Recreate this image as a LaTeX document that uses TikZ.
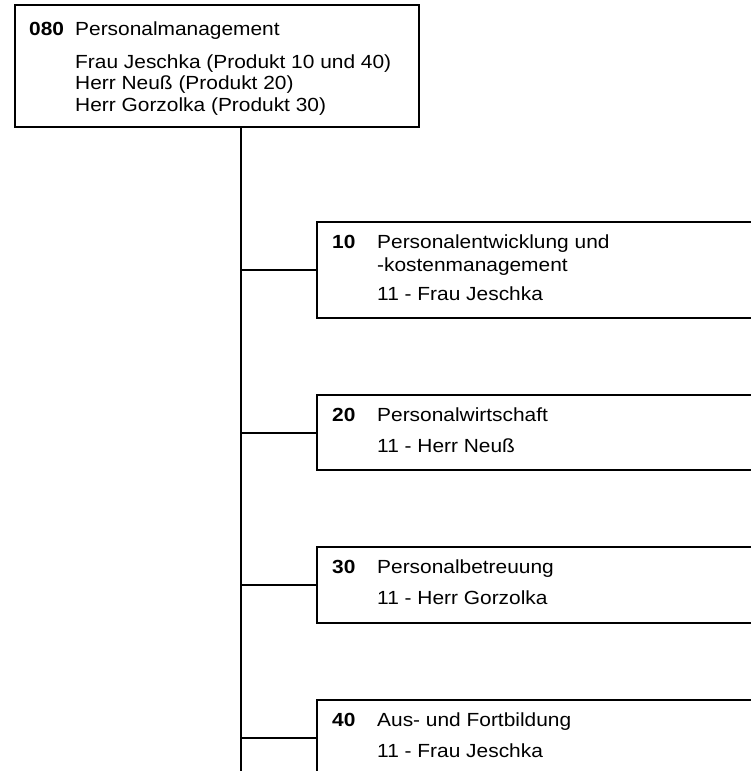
\documentclass[tikz,border=0pt]{standalone}
\usepackage{fontspec}
\setmainfont{Liberation Sans}[FakeStretch=1.1]
\usetikzlibrary{positioning}

\begin{document}
\begin{tikzpicture}[x=1pt, y=-1pt,
    every node/.style={font=\fontsize{19}{21}\selectfont},
    block_head/.style ={rectangle, draw=black, line width=2pt, fill=white,
      anchor=north west, inner sep=0pt,
      minimum width=404pt, minimum height=122pt},
    block_prod/.style ={rectangle, draw=black, line width=2pt, fill=white,
      anchor=north west, inner sep=0pt,
      minimum width=520pt},
    text_num/.style ={anchor=base west, inner sep=0pt,
      font=\fontsize{19}{21}\selectfont\bfseries},
    text_line/.style ={anchor=base west, inner sep=0pt},
    line/.style ={draw, line width=2pt}]
    \useasboundingbox (0,0) rectangle (751,771);
    \clip (0,0) rectangle (751,771);
    % head of the organisation chart
    \node [block_head] (head_box) at (14,4) {};
    \node [text_num] (head_num) at ([shift={(15,31)}]head_box.north west) {080};
    \node [text_line] (head_title) at ([shift={(61,31)}]head_box.north west) {Personalmanagement};
    \node [text_line] (head_one) at ([shift={(61,64)}]head_box.north west) {Frau Jeschka (Produkt 10 und 40)};
    \node [text_line] (head_two) at ([shift={(61,85.5)}]head_box.north west) {Herr Neuß (Produkt 20)};
    \node [text_line] (head_three) at ([shift={(61,107)}]head_box.north west) {Herr Gorzolka (Produkt 30)};
    % product boxes
    \node [block_prod, minimum height=96pt] (prod_10) at (316,221) {};
    \node [text_num] (num_10) at ([shift={(16,27)}]prod_10.north west) {10};
    \node [text_line] (name_10a) at ([shift={(61,27)}]prod_10.north west) {Personalentwicklung und};
    \node [text_line] (name_10b) at ([shift={(61,50)}]prod_10.north west) {-kostenmanagement};
    \node [text_line] (lead_10) at ([shift={(61,79)}]prod_10.north west) {11 - Frau Jeschka};

    \node [block_prod, minimum height=75pt] (prod_20) at (316,394) {};
    \node [text_num] (num_20) at ([shift={(16,27)}]prod_20.north west) {20};
    \node [text_line] (name_20) at ([shift={(61,27)}]prod_20.north west) {Personalwirtschaft};
    \node [text_line] (lead_20) at ([shift={(61,58)}]prod_20.north west) {11 - Herr Neuß};

    \node [block_prod, minimum height=76pt] (prod_30) at (316,546) {};
    \node [text_num] (num_30) at ([shift={(16,27)}]prod_30.north west) {30};
    \node [text_line] (name_30) at ([shift={(61,27)}]prod_30.north west) {Personalbetreuung};
    \node [text_line] (lead_30) at ([shift={(61,58)}]prod_30.north west) {11 - Herr Gorzolka};

    \node [block_prod, minimum height=76pt] (prod_40) at (316,699) {};
    \node [text_num] (num_40) at ([shift={(16,27)}]prod_40.north west) {40};
    \node [text_line] (name_40) at ([shift={(61,27)}]prod_40.north west) {Aus- und Fortbildung};
    \node [text_line] (lead_40) at ([shift={(61,58)}]prod_40.north west) {11 - Frau Jeschka};
    % connecting nodes with paths
    \coordinate (trunk_end) at (241,780);
    \begin{scope}[every path/.style=line]
      \path (head_box.south -| trunk_end) -- (trunk_end);
      \path (trunk_end |- prod_10.west) -- (prod_10.west);
      \path (trunk_end |- prod_20.west) -- (prod_20.west);
      \path (trunk_end |- prod_30.west) -- (prod_30.west);
      \path (trunk_end |- prod_40.west) -- (prod_40.west);
    \end{scope}
\end{tikzpicture}
\end{document}
